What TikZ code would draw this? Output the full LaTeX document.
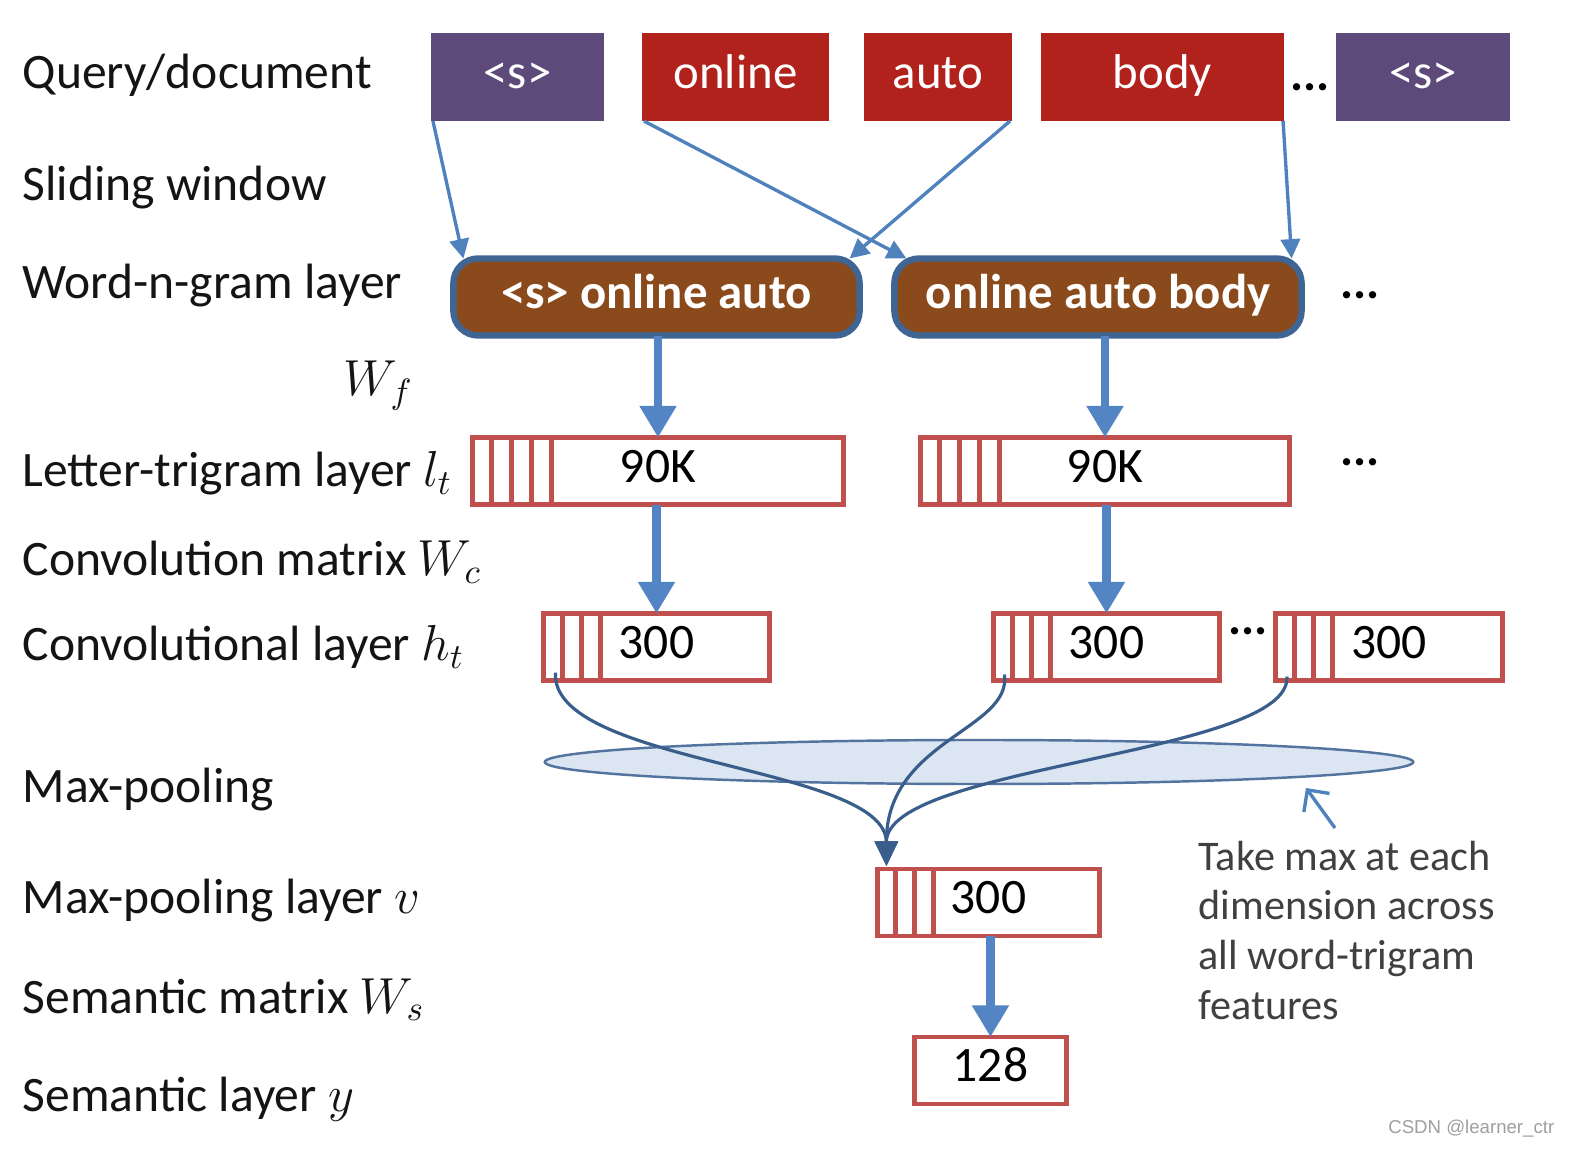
\documentclass[tikz,border=0pt]{standalone}
\usepackage{fontspec}
\setmainfont{Carlito}
\newfontfamily\wmfont{Liberation Sans}
\usetikzlibrary{arrows.meta,shapes.geometric,calc}
\definecolor{tokpurple}{RGB}{93,74,122}
\definecolor{tokred}{RGB}{176,34,27}
\definecolor{ngbrown}{RGB}{139,74,28}
\definecolor{ngborder}{RGB}{62,101,148}
\definecolor{thinblue}{RGB}{79,129,189}
\definecolor{thickblue}{RGB}{83,133,197}
\definecolor{boxred}{RGB}{192,80,77}
\definecolor{poolfill}{RGB}{220,230,242}
\definecolor{poolline}{RGB}{84,116,160}
\definecolor{curveblue}{RGB}{58,94,140}
\definecolor{notegray}{RGB}{64,64,64}
\definecolor{lbltext}{RGB}{20,20,20}
\begin{document}
\begin{tikzpicture}[x=0.01cm,y=-0.01cm,
  every node/.style={font=\fontsize{13.9}{16}\selectfont},
  lbl/.style={anchor=base west, inner sep=0, text=lbltext, font=\fontsize{14.1}{16}\selectfont},
  tok/.style={inner sep=0, outer sep=0, text=white, text height=0.644em, text depth=0pt, minimum height=0.88cm},
  ngram/.style={draw=ngborder, line width=1.8pt, fill=ngbrown, rounded corners=7pt, text=white, inner sep=0, outer sep=0, text height=0.644em, text depth=0pt, minimum height=0.77cm, font=\fontsize{13.9}{16}\selectfont\bfseries},
  vecbox/.style={draw=boxred, line width=1.4pt, fill=white, inner sep=0, outer sep=0, text=black, text height=0.644em, text depth=0pt, minimum height=0.67cm, font=\fontsize{14.1}{16}\selectfont},
  stripe/.style={draw=boxred, line width=1.4pt},
  thinarrow/.style={draw=thinblue, line width=0.95pt, -{Triangle[width=5.5pt,length=5.5pt]}},
  thickarrow/.style={draw=thickblue, line width=2.5pt, -{Triangle[width=10pt,length=9pt]}},
  poolcurve/.style={draw=curveblue, line width=0.9pt, -{Triangle[width=6.5pt,length=7pt]}},
  dotsnode/.style={anchor=base, inner sep=0, text=black, font=\fontsize{13.9}{16}\selectfont\bfseries},
]
\useasboundingbox[fill=white] (0,0) rectangle (1584,1158);

% left labels
\node[lbl] (lq) at (22,89) {Query/document};
\node[lbl] (lsw) at (22,201) {Sliding window};
\node[lbl] (lwn) at (22,299) {Word-n-gram layer};
\node[lbl] (lwf) at (343,396) {$W_f$};
\node[lbl] (llt) at (22,487) {Letter-trigram layer $l_t$};
\node[lbl] (lcm) at (22,576) {Convolution matrix $W_c$};
\node[lbl] (lcl) at (22,661) {Convolutional layer $h_t$};
\node[lbl] (lmp) at (22,803) {Max-pooling};
\node[lbl] (lml) at (22,913) {Max-pooling layer $v$};
\node[lbl] (lsm) at (22,1013) {Semantic matrix $W_s$};
\node[lbl] (lsl) at (22,1111) {Semantic layer $y$};

% tokens
\node[tok, fill=tokpurple, minimum width=1.73cm] (s1) at (517.5,77) {<s>};
\node[tok, fill=tokred, minimum width=1.87cm] (online) at (735.5,77) {online};
\node[tok, fill=tokred, minimum width=1.48cm] (auto) at (938,77) {auto};
\node[tok, fill=tokred, minimum width=2.43cm] (body) at (1162.5,77) {body};
\node[tok, fill=tokpurple, minimum width=1.74cm] (s2) at (1423,77) {<s>};
\node[dotsnode] (d1) at (1310,91) {...};

% word-n-gram
\node[ngram, minimum width=4.06cm] (ng1) at (656.5,297) {<s> online auto};
\node[ngram, minimum width=4.07cm] (ng2) at (1098,297) {online auto body};
\node[dotsnode] (d2) at (1360,299) {...};

% letter trigram
\node[vecbox, minimum width=3.71cm] (lt1) at (658,471) {90K};
\node[vecbox, minimum width=3.69cm] (lt2) at (1105,471) {90K};
\foreach \b in {lt1,lt2}{
  \foreach \o in {19,39,59,79}{
    \draw[stripe] ($(\b.north west)+(\o,0)$) -- ($(\b.south west)+(\o,0)$);
  }
}
\node[dotsnode] (d3) at (1360,466) {...};

% pooling ellipse
\node[ellipse, draw=poolline, line width=0.7pt, fill=poolfill, minimum width=8.68cm, minimum height=0.44cm, inner sep=0, outer sep=0] (pool) at (979,762) {};

% convolutional
\node[vecbox, minimum width=2.26cm] (cv1) at (656.5,647) {300};
\node[vecbox, minimum width=2.26cm] (cv2) at (1106.5,647) {300};
\node[vecbox, minimum width=2.26cm] (cv3) at (1389,647) {300};
\foreach \b in {cv1,cv2,cv3}{
  \foreach \o in {19,38,57}{
    \draw[stripe] ($(\b.north west)+(\o,0)$) -- ($(\b.south west)+(\o,0)$);
  }
}
\node[dotsnode] (d4) at (1248,635) {...};

% max-pooling layer & semantic layer
\node[vecbox, minimum width=2.22cm] (mp) at (988.5,902.5) {300};
\foreach \o in {18,37,56}{
  \draw[stripe] ($(mp.north west)+(\o,0)$) -- ($(mp.south west)+(\o,0)$);
}
\node[vecbox, minimum width=1.52cm] (sem) at (990.5,1070.5) {128};

% sliding window arrows
\draw[thinarrow] ($(s1.south west)+(2,0)$) -- ($(ng1.north west)+(10,0)$);
\draw[thinarrow] ($(online.south west)+(2,0)$) -- ($(ng2.north west)+(12,0)$);
\draw[thinarrow] ($(auto.south east)+(-2,0)$) -- ($(ng1.north east)+(-10,0)$);
\draw[thinarrow] ($(body.south east)+(-1,0)$) -- ($(ng2.north east)+(-10,0)$);

% thick arrows
\draw[thickarrow] (lt1.north |- ng1.south) -- (lt1.north);
\draw[thickarrow] (lt2.north |- ng2.south) -- (lt2.north);
\draw[thickarrow] (cv1.north |- lt1.south) -- (cv1.north);
\draw[thickarrow] (cv2.north |- lt2.south) -- (cv2.north);
\draw[thickarrow] (sem.north |- mp.south) -- (sem.north);

% max pooling curves
\coordinate (mptop) at ($(mp.north west)+(9,-3)$);
\draw[poolcurve] ($(cv1.south west)+(12,-8)$) .. controls (550,765) and (886,765) .. (mptop);
\draw[poolcurve] ($(cv2.south west)+(11,-6)$) .. controls (1012,730) and (886,740) .. (mptop);
\draw[poolcurve] ($(cv3.south west)+(11,-4)$) .. controls (1292,755) and (886,765) .. (mptop);

% note
\node[anchor=north west, inner sep=0, align=left, text=notegray, font=\fontsize{12}{14.2}\selectfont] (note) at (1198,840) {Take max at each\\dimension across\\all word-trigram\\features};
\coordinate (noteA) at (1335,828);
\coordinate (noteB) at (1306,788);
\draw[thinblue, line width=0.95pt, -{Straight Barb[length=4.5pt,width=9pt]}] (noteA) -- (noteB);

% watermark
\node[anchor=base east, inner sep=0, text=gray!75, font=\wmfont\fontsize{5.3}{6}\selectfont] (wm) at (1555,1133) {CSDN @learner\_ctr};
\end{tikzpicture}
\end{document}
